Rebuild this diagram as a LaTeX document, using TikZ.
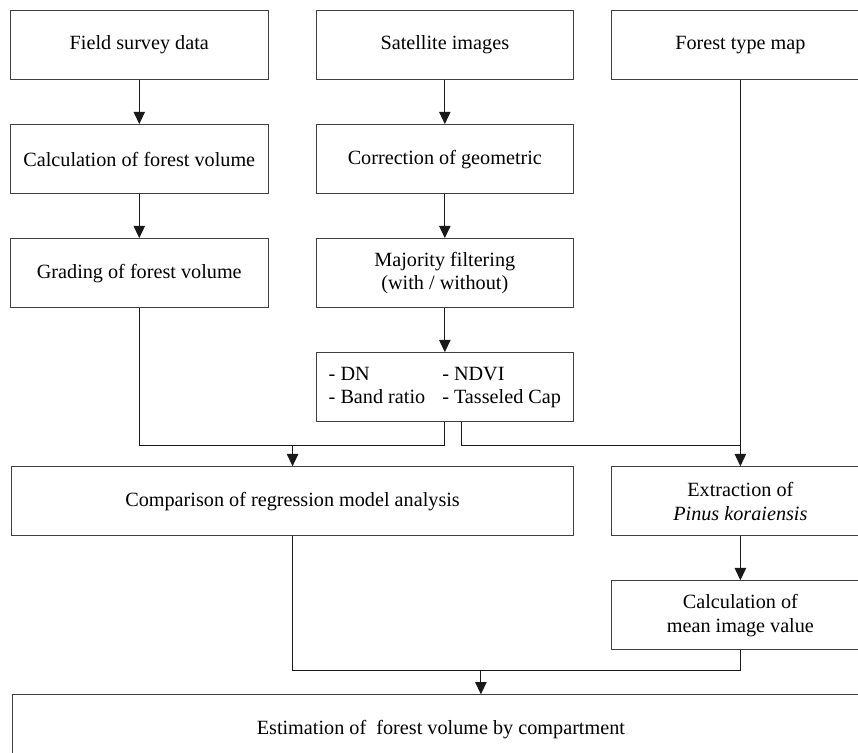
\documentclass[tikz,border=0pt]{standalone}
\usepackage{fontspec}
\setmainfont{Liberation Serif}
\usetikzlibrary{positioning,arrows.meta}
\begin{document}
\begin{tikzpicture}[
    node distance=0.88cm and 0.94cm,
    font=\fontsize{11.5}{13.5}\selectfont,
    box/.style={draw=black!75, line width=0.6pt, align=center, inner sep=0pt, minimum height=1.38cm, minimum width=5.15cm},
    arrow/.style={-{Triangle[width=6.5pt,length=7pt]}, line width=0.6pt, draw=black!90},
    line/.style={line width=0.6pt, draw=black!90}
  ]
    \useasboundingbox (0,0) rectangle (17.16,-15.06);
    \node[box, anchor=north west] (field) at (0.2,-0.2) {Field survey data};
    \node[box, right=of field] (sat) {Satellite images};
    \node[box, right=0.74cm of sat] (ftmap) {Forest type map};
    \node[box, below=of field] (calc) {Calculation of forest volume};
    \node[box, below=of calc] (grade) {Grading of forest volume};
    \node[box, below=of sat] (corr) {Correction of geometric};
    \node[box, below=of corr] (major) {Majority filtering\\(with / without)};
    \node[box, below=of major] (index) {\begin{tabular}{@{}l@{\hspace{0.34cm}}l@{}}- DN & - NDVI\\- Band ratio & - Tasseled Cap\end{tabular}};
    \node[box, anchor=north east, minimum width=11.24cm] (compare) at ([yshift=-0.88cm]index.south east) {Comparison of regression model analysis};
    \node[box, anchor=north west] (extract) at (ftmap.west |- compare.north) {Extraction of\\\textit{Pinus koraiensis}};
    \node[box, below=of extract] (mean) {Calculation of\\mean image value};
    \node[box, anchor=north east, minimum width=17.13cm] (est) at ([yshift=-0.88cm]mean.south east) {Estimation of\ \ forest volume by compartment};
    \coordinate (j1) at ([yshift=0.42cm]compare.north);
    \coordinate (j2) at ([yshift=0.42cm]extract.north);
    \coordinate (dnr) at ([xshift=0.34cm]index.south);
    \coordinate (j3) at ([xshift=0.8cm,yshift=0.48cm]est.north);
    \draw[arrow] (field) -- (calc);
    \draw[arrow] (calc) -- (grade);
    \draw[arrow] (sat) -- (corr);
    \draw[arrow] (corr) -- (major);
    \draw[arrow] (major) -- (index);
    \draw[arrow] (ftmap) -- (extract);
    \draw[arrow] (extract) -- (mean);
    \draw[line] (grade) |- (j1) -| (index);
    \draw[arrow] (j1) -- (compare);
    \draw[line] (dnr) |- (j2);
    \draw[line] (compare) |- (j3) -| (mean);
    \draw[arrow] (j3) -- (j3 |- est.north);
  \end{tikzpicture}
\end{document}
